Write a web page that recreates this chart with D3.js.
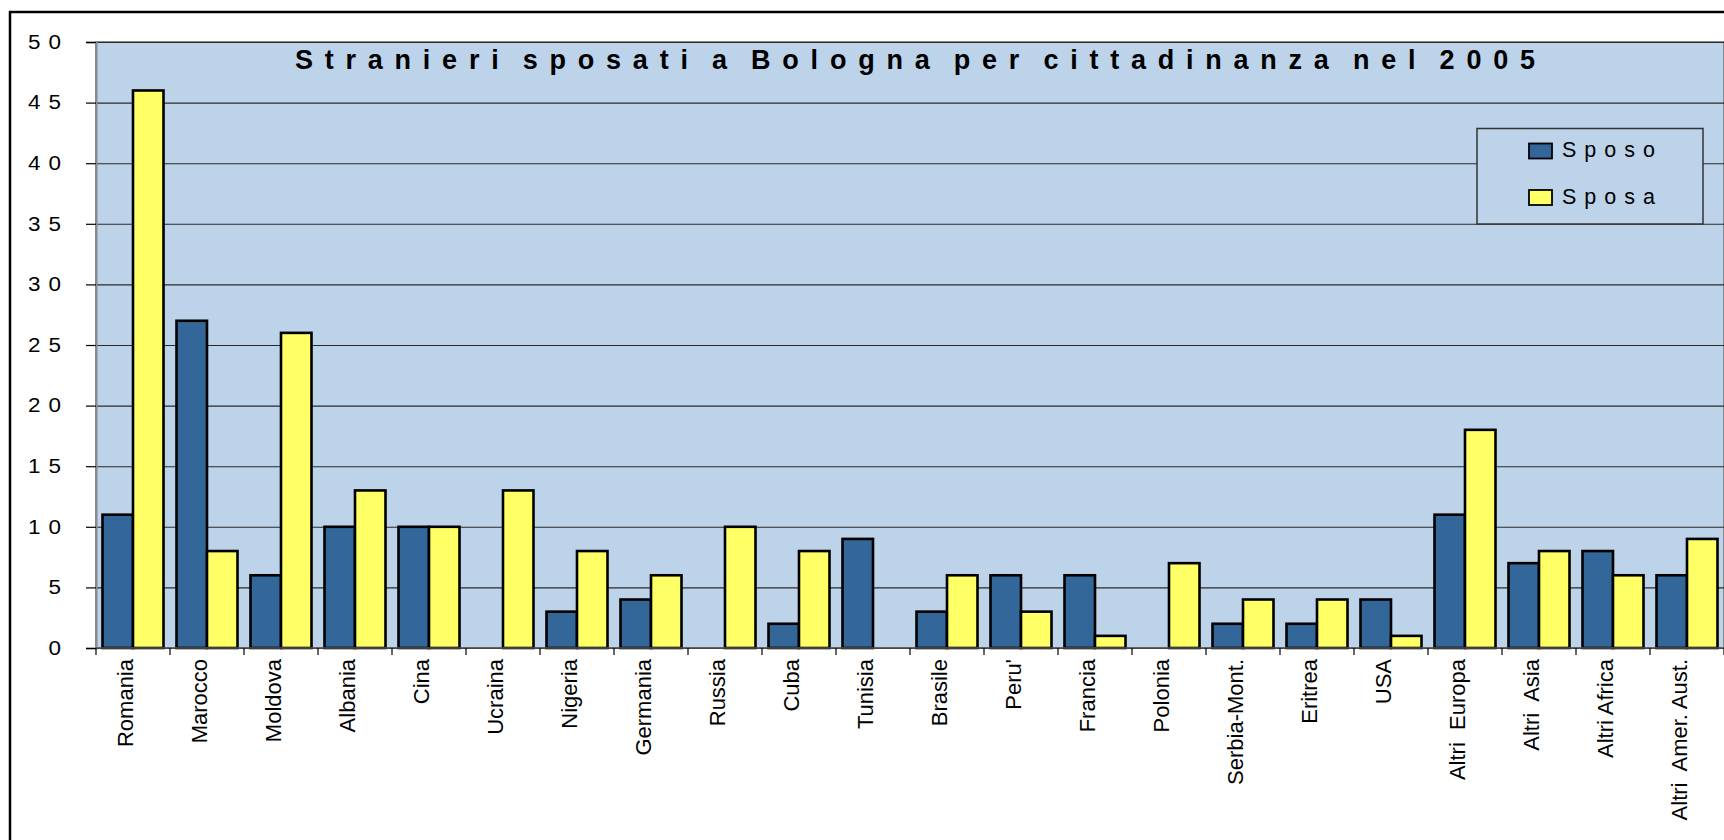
<!DOCTYPE html>
<html>
<head>
<meta charset="utf-8">
<script src="https://cdn.jsdelivr.net/npm/d3@7"></script>
<style>
  html, body { margin: 0; padding: 0; background: #fff; overflow: hidden; }
  svg { display: block; font-family: "Liberation Sans", Arial, sans-serif; }
  text { white-space: pre; }
</style>
</head>
<body>
<svg id="chart" width="1724" height="840"></svg>
<script>
const title = "Stranieri sposati a Bologna per cittadinanza nel 2005";
const categories = ["Romania", "Marocco", "Moldova", "Albania", "Cina", "Ucraina", "Nigeria", "Germania", "Russia", "Cuba", "Tunisia", "Brasile", "Peru'", "Francia", "Polonia", "Serbia-Mont.", "Eritrea", "USA", "Altri  Europa", "Altri  Asia", "Altri Africa", "Altri  Amer. Aust."];
const seriesNames = ["Sposo", "Sposa"];
const sposo = [11, 27, 6, 10, 10, 0, 3, 4, 0, 2, 9, 3, 6, 6, 0, 2, 2, 4, 11, 7, 8, 6];
const sposa = [46, 8, 26, 13, 10, 13, 8, 6, 10, 8, 0, 6, 3, 1, 7, 4, 4, 1, 18, 8, 6, 9];
const yTicks = [0, 5, 10, 15, 20, 25, 30, 35, 40, 45, 50];
const colors = {Sposo: "#336699", Sposa: "#FFFF66"};

const svg = d3.select("#chart");
const plot = {left: 96, top: 42, right: 1724, bottom: 648};
const bg = "#BDD3EA";

// outer frame
svg.append("rect").attr("x", 10).attr("y", 12).attr("width", 1760).attr("height", 900)
  .attr("fill", "#fff").attr("stroke", "#000").attr("stroke-width", 2.5);

const x0 = d3.scaleBand().domain(categories).range([plot.left, plot.right]).paddingInner(0).paddingOuter(0);
const x1 = d3.scaleBand().domain(seriesNames).range([0, x0.bandwidth()]).paddingInner(0).paddingOuter(0.213);
const y = d3.scaleLinear().domain([0, 50]).range([plot.bottom, plot.top]);

// plot background
svg.append("rect").attr("x", plot.left).attr("y", plot.top)
  .attr("width", plot.right - plot.left).attr("height", plot.bottom - plot.top)
  .attr("fill", bg).attr("stroke", "#8a8a8a").attr("stroke-width", 2);

// gridlines
const grid = svg.append("g").attr("transform", `translate(${plot.left},0)`)
  .call(d3.axisLeft(y).tickValues(yTicks).tickSize(-(plot.right - plot.left)).tickFormat(""));
grid.select(".domain").remove();
grid.selectAll(".tick line").attr("stroke", "#2a2a2a").attr("stroke-width", 1.1);

// y axis ticks & labels
const yAxis = svg.append("g").attr("transform", `translate(${plot.left},0)`)
  .call(d3.axisLeft(y).tickValues(yTicks).tickSize(10).tickPadding(0).tickFormat(d3.format("d")));
yAxis.select(".domain").attr("stroke", "#8a8a8a").attr("stroke-width", 2);
yAxis.selectAll(".tick line").attr("stroke", "#000").attr("stroke-width", 1.2);
const sx = 1.15;
yAxis.selectAll(".tick text")
  .attr("font-size", 19.5).attr("fill", "#000")
  .attr("letter-spacing", "7px")
  .attr("text-anchor", "end")
  .attr("x", -27 / sx)
  .attr("transform", `scale(${sx},1)`)
  .attr("font-family", "Liberation Sans, Arial, sans-serif");

// title: words with narrow spaces, spread by letter spacing
const titleText = svg.append("text").attr("x", 295).attr("y", 69)
  .attr("textLength", 1240).attr("lengthAdjust", "spacing")
  .attr("font-size", 27).attr("font-weight", "bold").attr("fill", "#000");
const words = title.split(" ");
words.forEach((w, i) => {
  titleText.append("tspan").text(w);
  if (i < words.length - 1) titleText.append("tspan").attr("font-size", 2).text(" ");
});

// bars
const data = categories.map((c, i) => ({cat: c, vals: [{s: "Sposo", v: sposo[i]}, {s: "Sposa", v: sposa[i]}]}));
const groups = svg.append("g").selectAll("g").data(data).join("g")
  .attr("transform", d => `translate(${x0(d.cat)},0)`);
groups.selectAll("rect").data(d => d.vals).join("rect")
  .attr("x", d => x1(d.s)).attr("width", x1.bandwidth())
  .attr("y", d => y(d.v)).attr("height", d => y(0) - y(d.v))
  .attr("fill", d => colors[d.s])
  .attr("stroke", "#000").attr("stroke-width", d => d.v === 0 ? 0 : 2.6);

// x axis
const xAxisG = svg.append("g");
xAxisG.append("line").attr("x1", plot.left).attr("x2", plot.right)
  .attr("y1", plot.bottom).attr("y2", plot.bottom).attr("stroke", "#555").attr("stroke-width", 1.5);
const boundaries = categories.map(c => x0(c)).concat([x0(categories[categories.length - 1]) + x0.bandwidth()]);
xAxisG.selectAll("line.tk").data(boundaries).join("line").attr("class", "tk")
  .attr("x1", d => d).attr("x2", d => d).attr("y1", plot.bottom).attr("y2", plot.bottom + 7)
  .attr("stroke", "#000").attr("stroke-width", 1.2);
xAxisG.selectAll("text").data(categories).join("text")
  .attr("transform", d => `translate(${x0(d) + x0.bandwidth() / 2},${plot.bottom + 11}) rotate(-90)`)
  .attr("text-anchor", "end").attr("font-size", 22).attr("fill", "#000")
  .text(d => d);

// legend
const lg = svg.append("g");
lg.append("rect").attr("x", 1477).attr("y", 128.5).attr("width", 226).attr("height", 95.5)
  .attr("fill", bg).attr("stroke", "#333").attr("stroke-width", 1.5);
const li = lg.selectAll("g").data(seriesNames).join("g")
  .attr("transform", (d, i) => `translate(1529,${143.5 + i * 46.5})`);
li.append("rect").attr("width", 23).attr("height", 15).attr("fill", d => colors[d])
  .attr("stroke", "#000").attr("stroke-width", 1.8);
li.append("text").attr("x", 33).attr("y", 13.5).attr("font-size", 21.5)
  .attr("letter-spacing", "8px").attr("fill", "#000").text(d => d);
</script>
</body>
</html>
